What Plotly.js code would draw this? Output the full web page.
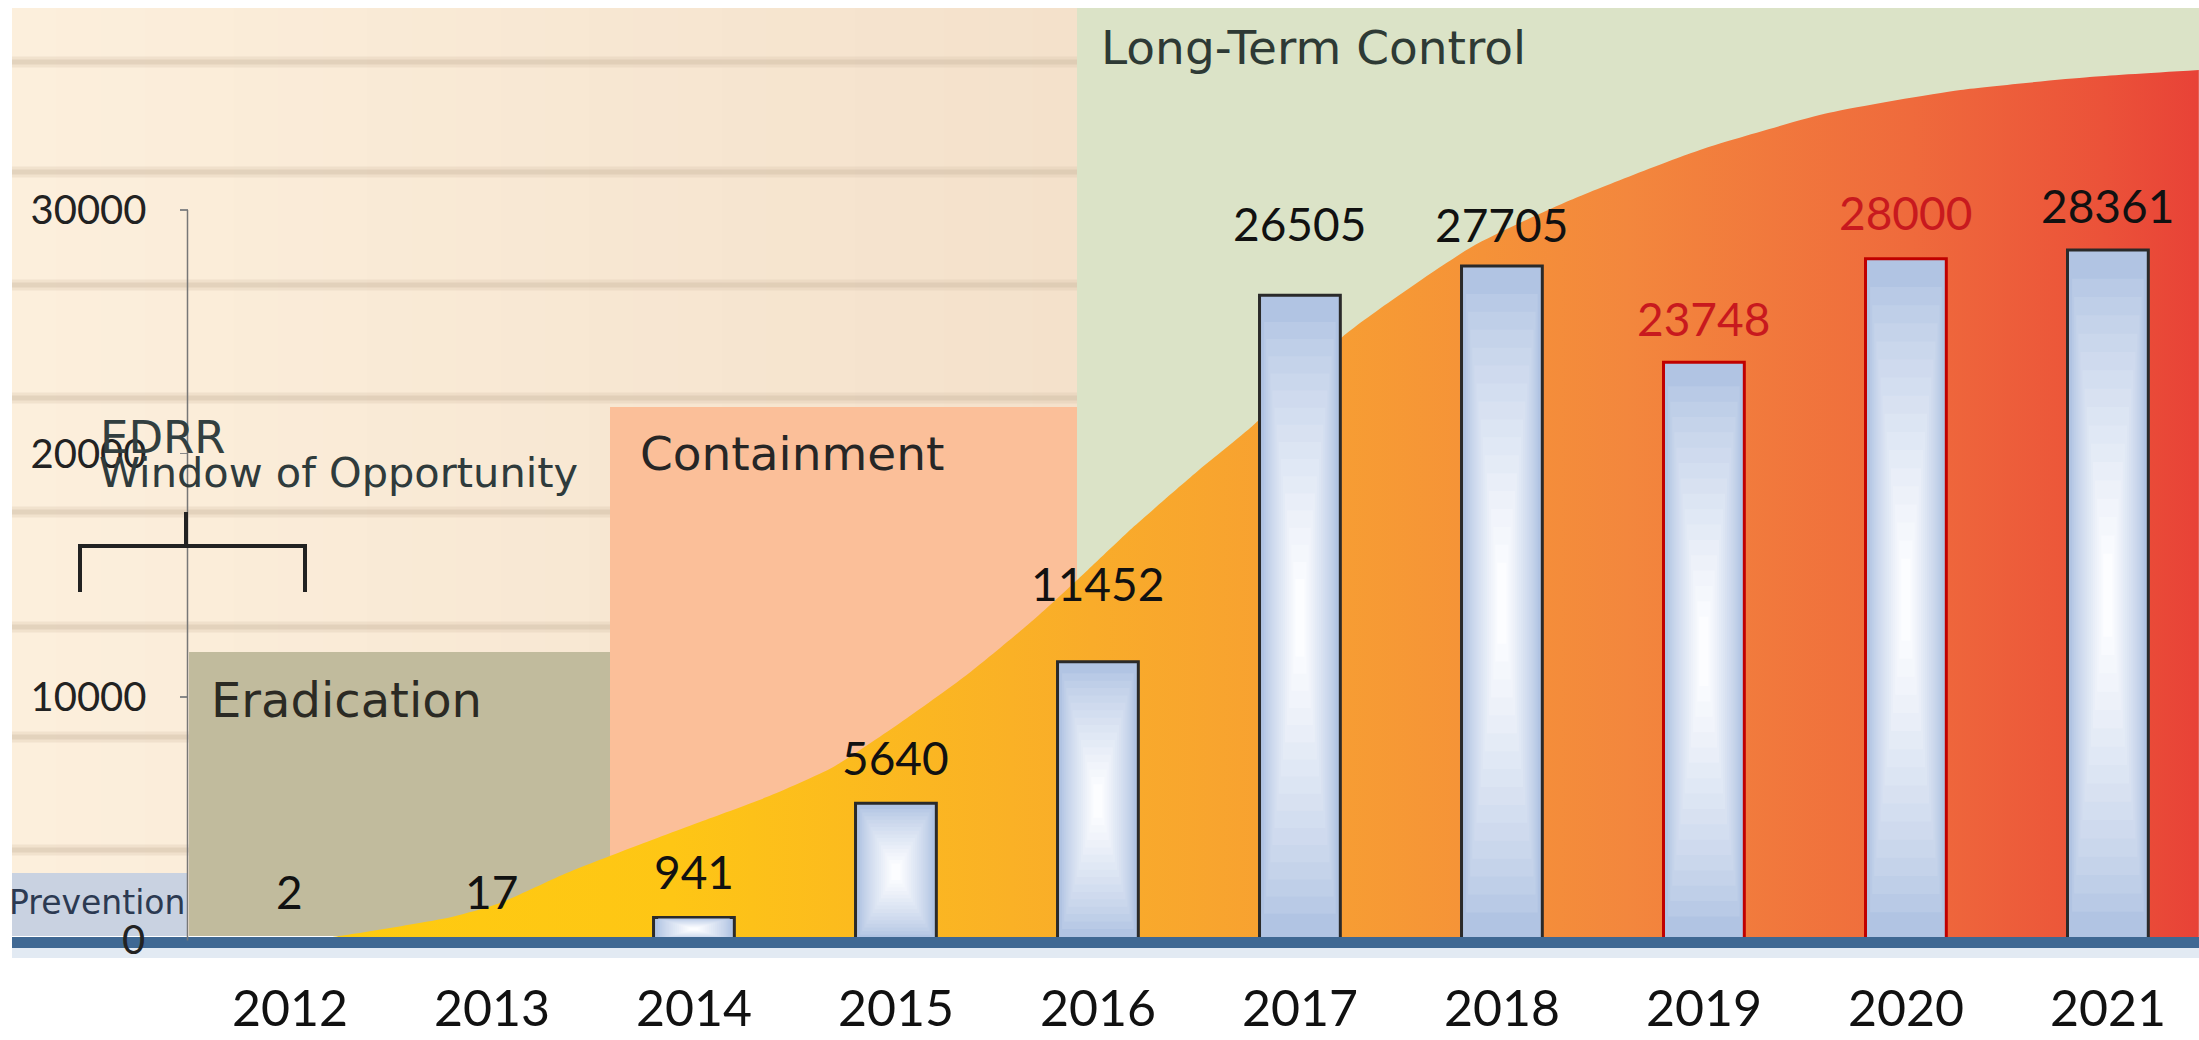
<!DOCTYPE html>
<html><head><meta charset="utf-8">
<script src="https://cdn.plot.ly/plotly-3.0.1.min.js"></script>
<style>html,body{margin:0;padding:0;background:#fff;overflow:hidden;} #chart{width:2199px;height:1040px;}</style>
</head><body><div id="chart"></div>
<script>
// ---------------- data ----------------
const years = [2012, 2013, 2014, 2015, 2016, 2017, 2018, 2019, 2020, 2021];
const counts = [2, 17, 941, 5640, 11452, 26505, 27705, 23748, 28000, 28361];
const yTicks = [0, 10000, 20000, 30000];
const yTickText = ['0', '10000', '20000', '30000'];
// invasion curve
const curveX = [2012.0, 2012.21, 2012.8, 2013.04, 2013.37, 2013.7, 2014.03, 2014.36, 2014.69, 2015.02, 2015.35, 2015.68, 2015.95, 2016.17, 2016.5, 2016.77, 2017.21, 2017.85, 2018.34, 2018.98, 2019.62, 2020.27, 2020.91, 2021.45];
const curveY = [0, 144, 965, 1540, 2770, 3840, 4870, 5890, 7130, 8930, 10900, 13160, 15220, 16940, 19320, 21170, 24790, 28480, 30410, 32470, 33990, 34930, 35460, 35750];
const phaseLabels = ['Prevention', 'Eradication', 'Containment', 'Long-Term Control', 'EDRR', 'Window of Opportunity'];

// ---------------- style ----------------
const W = 2199, H = 1040, L = 12, R = 2199, T = 8, B = 948;
const px = p => (p - L) / (R - L);
const py = p => (B - p) / (B - T);
const labelColor = years.map(y => (y === 2019 || y === 2020) ? '#c8191e' : '#111111');
const outlineColor = years.map(y => (y === 2019 || y === 2020) ? '#c00000' : '#2a2a2a');
const labelShift = [19, 19, 17, 16, 49, 42, 12, 14, 17, 15];
const numFont = 'Lato, "Open Sans", sans-serif';
const txtFont = '"DejaVu Sans", Arial, sans-serif';
const xRange = [2010.624, 2021.451];
const yRange = [-308, 38297];

const shapes = [];
// beige background with subtle horizontal gradient
const NS = 24;
for (let i = 0; i < NS; i++) {
  const t = i / (NS - 1);
  const c = [Math.round(252 - 8 * t), Math.round(239 - 14 * t), Math.round(220 - 17 * t)];
  shapes.push({type: 'rect', xref: 'paper', yref: 'paper', layer: 'below',
    x0: px(12 + i * (1077 - 12) / NS), x1: px(12 + (i + 1) * (1077 - 12) / NS + 1),
    y0: py(936), y1: py(8), fillcolor: `rgb(${c[0]},${c[1]},${c[2]})`, line: {width: 0}});
}
// faint horizontal stripes
[62, 172, 285, 398, 512, 627, 737, 850].forEach(s => {
  shapes.push({type: 'line', xref: 'paper', yref: 'paper', layer: 'below',
    x0: px(12), x1: px(1077), y0: py(s), y1: py(s), line: {color: 'rgba(214,196,172,0.3)', width: 11}});
  shapes.push({type: 'line', xref: 'paper', yref: 'paper', layer: 'below',
    x0: px(12), x1: px(1077), y0: py(s), y1: py(s), line: {color: 'rgba(205,186,162,0.38)', width: 5}});
});
// phase regions
const rect = (x0, x1, y0, y1, c) => shapes.push({type: 'rect', xref: 'paper', yref: 'paper', layer: 'below',
  x0: px(x0), x1: px(x1), y0: py(y1), y1: py(y0), fillcolor: c, line: {width: 0}});
rect(1077, 2199, 8, 936, '#dbe3c7');
rect(610, 1077, 407, 936, '#fbbf99');
rect(189, 610, 652, 936, '#c1bb9d');
rect(12, 187, 873, 936, '#c9d2e1');

// above-layer decorations
shapes.push({type: 'rect', xref: 'paper', yref: 'paper', layer: 'above',
  x0: px(12), x1: px(2199), y0: py(948), y1: py(937), fillcolor: '#3f6893', line: {width: 0}});
shapes.push({type: 'rect', xref: 'paper', yref: 'paper', layer: 'above',
  x0: px(12), x1: px(2199), y0: py(958), y1: py(948), fillcolor: '#e2eaf3', line: {width: 0}});
shapes.push({type: 'line', xref: 'paper', yref: 'y', layer: 'above',
  x0: px(187.5), x1: px(187.5), y0: 0, y1: yTicks[yTicks.length - 1], line: {color: '#777777', width: 1.5}});
// bracket
const bl = (x0, y0, x1, y1) => shapes.push({type: 'line', xref: 'paper', yref: 'paper', layer: 'above',
  x0: px(x0), x1: px(x1), y0: py(y0), y1: py(y1), line: {color: '#222222', width: 4}});
bl(78, 546, 307, 546);
bl(80, 544, 80, 592);
bl(305, 544, 305, 592);
bl(186, 512, 186, 546);

// ---------------- traces ----------------
const traces = [];
traces.push({type: 'scatter', mode: 'lines', x: curveX, y: curveY, fill: 'tozeroy',
  line: {shape: 'spline', smoothing: 0.6, width: 0, color: 'rgba(0,0,0,0)'},
  fillgradient: {type: 'horizontal', start: curveX[0], stop: curveX[curveX.length - 1],
    colorscale: [[0, '#ffcc0f'], [0.2, '#fec615'], [0.42, '#f9ac2a'], [0.55, '#f79d33'],
                 [0.7, '#f3873d'], [0.85, '#ef6a3c'], [0.95, '#eb5239'], [1, '#e84237']]},
  hoverinfo: 'skip', showlegend: false});

// bars live on an overlaying subplot so they are drawn above the curve
traces.push({type: 'bar', x: years, y: counts, width: 0.4, xaxis: 'x2', yaxis: 'y2',
  marker: {color: '#b1c4e3', line: {color: outlineColor, width: 3}},
  hoverinfo: 'skip', showlegend: false});
// soft glow inside each bar (stacked lighter layers)
const NG = 16, c0 = [177, 196, 227], c1 = [252, 253, 255];
for (let k = 1; k <= NG; k++) {
  const t = k / NG;
  const f = 0.97 - 0.85 * t, w = 0.375 - 0.33 * t;
  const e = Math.pow(t, 0.8);
  const col = `rgb(${c0.map((a, j) => Math.round(a + (c1[j] - a) * e)).join(',')})`;
  traces.push({type: 'bar', x: years, xaxis: 'x2', yaxis: 'y2',
    y: counts.map(v => v * f), base: counts.map(v => v * (1 - f) / 2), width: w,
    marker: {color: col, line: {width: 0}}, hoverinfo: 'skip', showlegend: false});
}

// ---------------- annotations ----------------
const ann = years.map((yr, i) => ({x: yr, y: counts[i], xref: 'x', yref: 'y', text: String(counts[i]),
  showarrow: false, yanchor: 'bottom', xanchor: 'center', yshift: labelShift[i],
  font: {family: numFont, size: 46, color: labelColor[i]}}));
// zero tick label drawn as annotation so it sits above the baseline band
ann.push({x: px(147), y: yTicks[0], xref: 'paper', yref: 'y', text: yTickText[0], showarrow: false,
  xanchor: 'right', yanchor: 'middle', yshift: 2, font: {family: numFont, size: 40, color: '#222'}});
const pt = (text, x, y, size, color) => ann.push({text, x: px(x), y: py(y), xref: 'paper', yref: 'paper',
  xanchor: 'left', yanchor: 'middle', showarrow: false, font: {family: txtFont, size, color}});
pt(phaseLabels[3], 1099, 48, 47, '#2e3a35');
pt(phaseLabels[2], 638, 454, 47, '#262626');
pt(phaseLabels[1], 209, 700, 48, '#2b2a24');
pt(phaseLabels[4], 98, 437, 45, '#323f40');
pt(phaseLabels[5], 97, 473, 41.5, '#2f3b3c');
pt(phaseLabels[0], 7, 902, 33, '#2c3a52');

const layout = {
  width: W, height: H,
  margin: {l: L, r: W - R, t: T, b: H - B, pad: 0},
  paper_bgcolor: '#ffffff', plot_bgcolor: 'rgba(0,0,0,0)',
  barmode: 'overlay', showlegend: false, hovermode: false,
  xaxis: {range: xRange, tickvals: years, ticktext: years.map(String),
    showgrid: false, zeroline: false, showline: false, ticks: '', ticklabelstandoff: 27,
    tickfont: {family: numFont, size: 50, color: '#111'}},
  yaxis: {range: yRange, tickvals: yTicks, ticktext: ['', ...yTickText.slice(1)], anchor: 'free', position: px(187.5),
    showgrid: false, zeroline: false, showline: false, ticks: 'outside', ticklen: 8, tickwidth: 1.5,
    tickcolor: '#888', ticklabelstandoff: 25, tickfont: {family: numFont, size: 40, color: '#222'}},
  xaxis2: {range: xRange, overlaying: 'x', anchor: 'y2', visible: false, showgrid: false, zeroline: false},
  yaxis2: {range: yRange, overlaying: 'y', anchor: 'x2', visible: false, showgrid: false, zeroline: false},
  shapes, annotations: ann
};
Plotly.newPlot('chart', traces, layout, {displayModeBar: false, staticPlot: true});
</script></body></html>
